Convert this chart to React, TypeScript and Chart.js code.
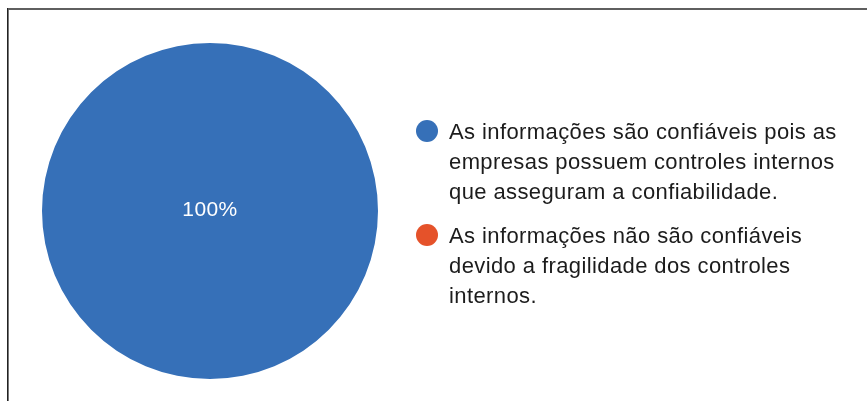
import React, { useEffect, useRef } from "react";
import { Chart, registerables } from "chart.js";

Chart.register(...registerables);

const categories: string[] = [
  "As informações são confiáveis pois as empresas possuem controles internos que asseguram a confiabilidade.",
  "As informações não são confiáveis devido a fragilidade dos controles internos.",
];
const values: number[] = [100, 0];
const colors: string[] = ["#3670B8", "#E5522A"];

const FONT = "'Liberation Sans', Arial, sans-serif";

function wrap(ctx: CanvasRenderingContext2D, text: string, maxW: number): string[] {
  const words = text.split(" ");
  const lines: string[] = [];
  let cur = "";
  for (const w of words) {
    const t = cur ? cur + " " + w : w;
    if (ctx.measureText(t).width > maxW && cur) {
      lines.push(cur);
      cur = w;
    } else cur = t;
  }
  if (cur) lines.push(cur);
  return lines;
}

const pieLabelPlugin = {
  id: "pieLabel",
  afterDatasetsDraw(chart: any) {
    const ctx = chart.ctx as CanvasRenderingContext2D;
    const meta = chart.getDatasetMeta(0);
    const data = chart.data.datasets[0].data as number[];
    const total = data.reduce((a, b) => a + b, 0);
    ctx.save();
    ctx.fillStyle = "#ffffff";
    ctx.font = `21px ${FONT}`;
    (ctx as any).letterSpacing = "0.4px";
    ctx.textAlign = "center";
    ctx.textBaseline = "middle";
    meta.data.forEach((arc: any, i: number) => {
      const v = data[i];
      if (!v) return;
      const pct = Math.round((v / total) * 100);
      let x = arc.x;
      let y = arc.y;
      if (arc.circumference < Math.PI * 2 - 1e-6) {
        const p = arc.tooltipPosition();
        x = p.x;
        y = p.y;
      }
      ctx.fillText(pct + "%", x, y - 1);
    });
    ctx.restore();
  },
};

const legendPlugin = {
  id: "sideLegend",
  afterDraw(chart: any) {
    const ctx = chart.ctx as CanvasRenderingContext2D;
    const labels = chart.data.labels as string[];
    const bg = chart.data.datasets[0].backgroundColor as string[];
    ctx.save();
    ctx.font = `22px ${FONT}`;
    (ctx as any).letterSpacing = "0.4px";
    ctx.textBaseline = "alphabetic";
    ctx.textAlign = "left";
    const textX = 449;
    const dotX = 427;
    const lineH = 30;
    let baseY = 139;
    labels.forEach((lab, i) => {
      const lines = wrap(ctx, lab, 396);
      ctx.fillStyle = bg[i];
      ctx.beginPath();
      ctx.arc(dotX, baseY - 8, 11, 0, Math.PI * 2);
      ctx.fill();
      ctx.fillStyle = "#1c1c1c";
      lines.forEach((ln, j) => {
        ctx.fillText(ln, textX, baseY + j * lineH);
      });
      baseY += lines.length * lineH + 14;
    });
    // frame lines
    ctx.fillStyle = "#5f5f5f";
    ctx.fillRect(7, 8, 867 - 7, 2);
    ctx.fillStyle = "#222222";
    ctx.fillRect(7, 8, 1, 401 - 8);
    ctx.fillStyle = "#777777";
    ctx.fillRect(8, 10, 1, 401 - 10);
    ctx.restore();
  },
};

export default function App() {
  const ref = useRef<HTMLCanvasElement | null>(null);
  useEffect(() => {
    if (!ref.current) return;
    const chart = new Chart(ref.current, {
      type: "pie",
      data: {
        labels: categories,
        datasets: [
          {
            data: values,
            backgroundColor: colors,
            borderWidth: 0,
          },
        ],
      },
      options: {
        responsive: false,
        animation: false,
        layout: { padding: { left: 42, right: 489, top: 43, bottom: 22 } },
        plugins: {
          legend: { display: false },
          tooltip: { enabled: false },
        },
      },
      plugins: [pieLabelPlugin, legendPlugin],
    });
    return () => chart.destroy();
  }, []);
  return (
    <div style={{ position: "absolute", left: 0, top: 0, width: 867, height: 401, background: "#ffffff" }}>
      <canvas ref={ref} width={867} height={401} style={{ display: "block" }} />
    </div>
  );
}
